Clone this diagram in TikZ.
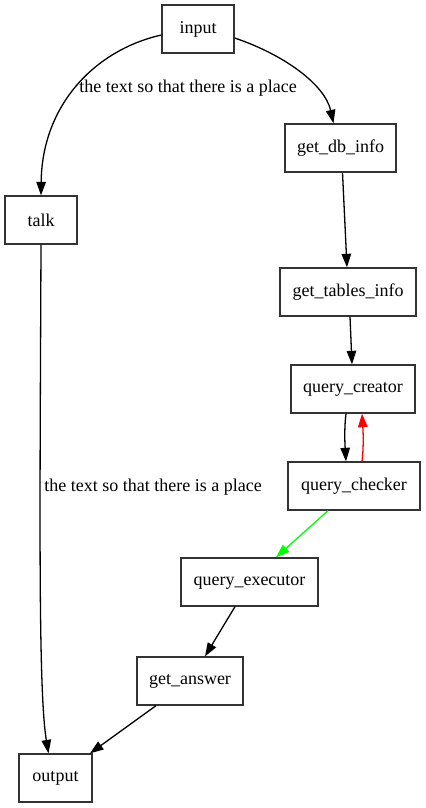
\documentclass[tikz,border=0pt]{standalone}
\usepackage{fontspec}
\setmainfont{Liberation Serif}
\usetikzlibrary{arrows.meta,calc}
\begin{document}
\begin{tikzpicture}[x=1bp,y=-1bp,
  box/.style={draw=black!80,line width=1.3bp,minimum height=48bp,inner sep=0pt,font=\fontsize{18bp}{21bp}\selectfont},
  edge/.style={line width=1.3bp,-{Triangle[length=13.5bp,width=9.5bp]}},
  lbl/.style={inner sep=0pt,font=\fontsize{18bp}{21bp}\selectfont}]
\useasboundingbox (0,0) rectangle (425,808);
\node[box,minimum width=72bp] (input) at (198,29) {input};
\node[box,minimum width=111bp] (getdb) at (340.5,148) {get\_db\_info};
\node[box,minimum width=72bp] (talk) at (41,220) {talk};
\node[box,minimum width=136bp] (gettables) at (348,292) {get\_tables\_info};
\node[box,minimum width=124bp] (creator) at (353,389) {query\_creator};
\node[box,minimum width=132bp] (checker) at (354,486) {query\_checker};
\node[box,minimum width=137bp] (executor) at (249.5,582) {query\_executor};
\node[box,minimum width=106bp] (answer) at (190,681) {get\_answer};
\node[box,minimum width=73bp] (output) at (55.5,778) {output};
\node[lbl] (l1) at (188,88) {the text so that there is a place};
\node[lbl] (l2) at (153,487) {the text so that there is a place};
\draw[edge] ([yshift=-6bp]input.west) .. controls (95,50) and (42,105) .. (talk.north);
\draw[edge] ([yshift=-9bp]input.east) .. controls (285,55) and (325,85) .. ([xshift=-7bp]getdb.north);
\draw[edge] ([xshift=2bp]getdb.south) -- ([xshift=-1bp]gettables.north);
\draw[edge] ([xshift=2bp]gettables.south) -- ([xshift=-1bp]creator.north);
\draw[edge] ([xshift=-7bp]creator.south) .. controls (344,430) and (345,445) .. ([xshift=-8bp]checker.north);
\draw[edge,red] ([xshift=8bp]checker.north) .. controls (364,445) and (363,430) .. ([xshift=9bp]creator.south);
\draw[edge,green] ([xshift=-26bp]checker.south) -- ([xshift=26.5bp]executor.north);
\draw[edge] ([xshift=-14.5bp]executor.south) -- ([xshift=15bp]answer.north);
\draw[edge] ([xshift=-34bp]answer.south) -- ([xshift=34.5bp]output.north);
\draw[edge] (talk.south) .. controls (40,500) and (38,690) .. ([xshift=-7bp]output.north);
\end{tikzpicture}
\end{document}
